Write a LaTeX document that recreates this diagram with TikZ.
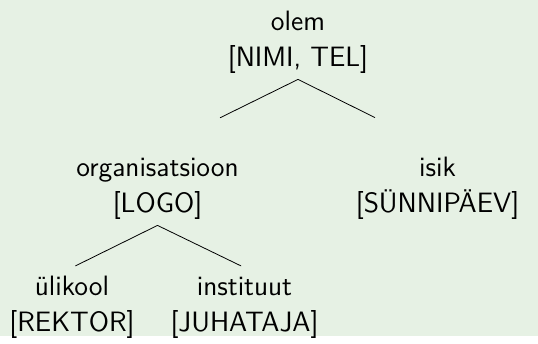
\documentclass[tikz,border=0pt]{standalone}
\definecolor{taust}{RGB}{230,241,228}
\tikzset{klass/.style={inner sep=1pt,font=\fontsize{14}{18}\selectfont\sffamily}}
\newcommand{\kast}[2]{\begin{tabular}{@{}c@{}}#1\\{[}#2{]}\end{tabular}}

\begin{document}
\begin{tikzpicture}[line cap=round,line join=round,x=0.5pt,y=0.5pt]
\fill[taust] (0,0) rectangle (538,336);
%\draw [help lines, step=20] (0,0) grid (538,336);
\node[klass] (olem) at (298,295) {\kast{olem}{NIMI, TEL}};
\node[klass] (org) at (157.5,149) {\kast{organisatsioon}{LOGO}};
\node[klass] (isik) at (437.5,149) {\kast{isik}{SÜNNIPÄEV}};
\node[klass] (ylikool) at (72,30) {\kast{ülikool}{REKTOR}};
\node[klass] (inst) at (244.5,30) {\kast{instituut}{JUHATAJA}};
\draw [shorten >=35pt] (olem.south)-- (org.north);
\draw [shorten >=35pt] (olem.south)-- (isik.north);
\draw [shorten >=2pt] (org.south)-- (ylikool.north);
\draw [shorten >=2pt] (org.south)-- (inst.north);
\end{tikzpicture}
\end{document}
